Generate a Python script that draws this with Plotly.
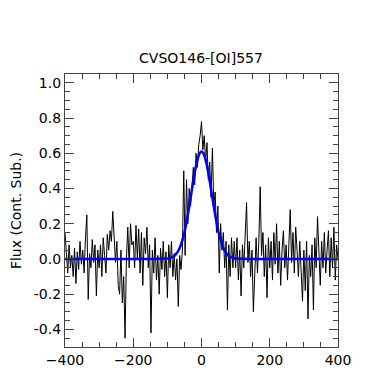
import plotly.graph_objects as go

# spectrum (4 km/s steps, -400 .. 400)
velocity = [-400 + 4 * i for i in range(201)]
flux = [
    # -400 .. -304
    0.15, 0.05, -0.08, 0.08, -0.05, 0.02, -0.10, 0.06, -0.14, 0.04, -0.06, 0.10, -0.03,
    0.05, -0.08, 0.12, 0.25, -0.23, 0.03, -0.05, 0.11, -0.02, 0.08, -0.21, 0.05,
    # -300 .. -204
    -0.05, 0.08, -0.10, 0.12, 0.02, -0.08, 0.14, 0.05, 0.16, 0.10, 0.27, 0.12, -0.02,
    0.10, -0.15, -0.20, 0.05, -0.25, -0.10, -0.45, 0.00, 0.18, -0.05, 0.20, 0.08,
    # -200 .. -104
    0.10, -0.05, 0.19, 0.00, 0.17, -0.08, 0.15, -0.15, 0.12, 0.03, 0.18, -0.05, 0.08,
    -0.42, 0.05, -0.08, 0.12, -0.12, 0.02, -0.20, 0.06, -0.06, 0.10, -0.10, 0.04,
    # -100 .. -4
    -0.22, 0.08, -0.05, 0.10, -0.10, 0.03, -0.12, 0.00, -0.27, 0.02, -0.06, 0.05, 0.50,
    0.02, 0.45, 0.20, 0.40, 0.30, 0.45, 0.52, 0.42, 0.60, 0.52, 0.65, 0.70,
    # 0 .. 96
    0.78, 0.62, 0.70, 0.55, 0.66, 0.45, 0.55, 0.35, 0.63, 0.30, 0.38, 0.15, 0.30,
    -0.08, 0.20, 0.05, 0.15, -0.05, 0.10, -0.29, 0.08, -0.10, 0.12, -0.05, 0.10,
    # 100 .. 196
    -0.05, 0.12, -0.12, 0.05, -0.21, 0.08, -0.05, 0.15, 0.32, -0.02, 0.10, -0.10, 0.05,
    -0.30, -0.05, 0.12, -0.08, 0.10, 0.41, 0.02, 0.15, -0.10, 0.08, -0.22, 0.12,
    # 200 .. 296
    -0.05, 0.10, -0.12, 0.15, -0.03, 0.20, -0.08, 0.10, -0.15, 0.05, 0.16, -0.05, 0.08,
    -0.12, 0.12, 0.28, -0.02, 0.15, -0.08, 0.18, 0.05, -0.10, 0.10, -0.05, -0.24,
    # 300 .. 400
    0.05, -0.18, 0.10, -0.34, 0.02, -0.10, 0.08, -0.29, 0.12, -0.05, 0.24, 0.02, -0.15,
    0.10, -0.05, 0.15, -0.08, 0.05, 0.16, -0.10, 0.12, -0.05, 0.18, -0.12, 0.08, 0.00,
]

# gaussian fit (blue), sampled every 5 km/s around the line
fit_v = [-400] + list(range(-100, 105, 5)) + [400]
fit_flux = [
    0.0,
    0.002, 0.004, 0.007, 0.011, 0.017, 0.027, 0.040, 0.058, 0.083, 0.114,
    0.152, 0.198, 0.251, 0.309, 0.370, 0.431, 0.488, 0.538, 0.577, 0.602,
    0.610,
    0.602, 0.577, 0.538, 0.488, 0.431, 0.370, 0.309, 0.251, 0.198, 0.152,
    0.114, 0.083, 0.058, 0.040, 0.027, 0.017, 0.011, 0.007, 0.004, 0.002,
    0.0,
]

x_ticks = [-400, -200, 0, 200, 400]
y_ticks = [-0.4, -0.2, 0.0, 0.2, 0.4, 0.6, 0.8, 1.0]

fig = go.Figure()
fig.add_trace(go.Scatter(x=velocity, y=flux, mode="lines",
                         line=dict(color="black", width=1)))
fig.add_trace(go.Scatter(x=fit_v, y=fit_flux, mode="lines", line_shape="spline",
                         line=dict(color="#0000ff", width=2.5)))

axis_style = dict(showline=True, linecolor="#444", linewidth=1.2, mirror="allticks",
                  ticks="inside", ticklen=9, tickcolor="#444", tickwidth=1.2,
                  showgrid=False, zeroline=False, automargin=False,
                  tickfont=dict(size=14, color="black"))

fig.update_xaxes(range=[-400, 400], tickvals=x_ticks,
                 minor=dict(dtick=50, ticks="inside", ticklen=5, tickcolor="#444"),
                 **axis_style)
fig.update_yaxes(range=[-0.5, 1.05], tickvals=y_ticks,
                 ticktext=["%.1f" % t for t in y_ticks],
                 minor=dict(dtick=0.05, tick0=0, ticks="inside", ticklen=5, tickcolor="#444"),
                 title=dict(text="Flux (Cont. Sub.)", font=dict(size=14)),
                 **axis_style)

# x label sits almost entirely below the window, as in the reference
fig.add_annotation(text="v (km s<sup>-1</sup>)", xref="paper", yref="paper",
                   x=0.5, y=-0.068, xanchor="center", yanchor="top",
                   showarrow=False, font=dict(size=14))

# the page body has an 8px margin, so the figure is sized to end at the window edge
fig.update_layout(
    width=369, height=361,
    margin=dict(l=57, r=39, t=66, b=22),
    paper_bgcolor="white", plot_bgcolor="white",
    font=dict(family="DejaVu Sans", color="black"),
    title=dict(text="CVSO146-[OI]557", x=0.523, xanchor="center", y=0.8615, yanchor="middle",
               font=dict(size=14)),
    showlegend=False,
)

fig.write_html("out.html")
